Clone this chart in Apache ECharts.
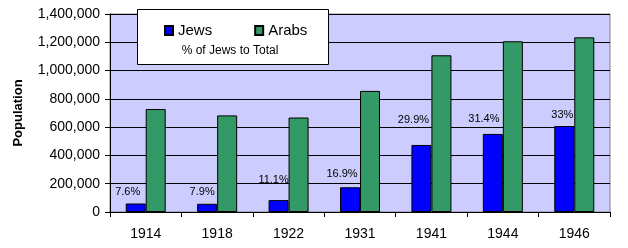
<!DOCTYPE html>
<html>
<head>
<meta charset="utf-8">
<script src="https://cdn.jsdelivr.net/npm/echarts@6/dist/echarts.min.js"></script>
<style>html,body{margin:0;padding:0;background:#fff;}#c{width:628px;height:248px;}</style>
</head>
<body>
<div id="c"></div>
<script>
var years = ['1914', '1918', '1922', '1931', '1941', '1944', '1946'];
var jews = [60000, 58000, 84000, 175000, 474000, 552000, 608000];
var arabs = [728000, 683000, 668000, 856000, 1108000, 1207000, 1235000];
var pctLabels = ['7.6%', '7.9%', '11.1%', '16.9%', '29.9%', '31.4%', '33%'];
var yTicks = { min: 0, max: 1400000, interval: 200000 };

// label placement tweaks (pixels), separate from data
var labelDx = [-8, -5, -5, -8, -8, -9, -2];
var labelDy = [-1, -1, -10, -3, -14, -4, -1];

var FONT = 'Liberation Sans, Arial, sans-serif';
var chart = echarts.init(document.getElementById('c'), null, { renderer: 'canvas' });

var jewsData = jews.map(function (v, i) {
  return { value: v, label: { offset: [labelDx[i], labelDy[i]] } };
});

chart.setOption({
  animation: false,
  textStyle: { fontFamily: FONT },
  grid: {
    left: 110, right: 18, top: 14, bottom: 36,
    show: true, backgroundColor: '#CCCCFF', borderColor: '#808080', borderWidth: 1
  },
  legend: {
    left: 159, top: 18,
    itemWidth: 8, itemHeight: 9, itemGap: 42,
    icon: 'rect',
    textStyle: { fontSize: 15, color: '#000', fontFamily: FONT, padding: [0, 0, 0, 0] },
    data: ['Jews', 'Arabs']
  },
  graphic: [
    {
      type: 'rect', z: 3, zlevel: 0,
      shape: { x: 137.5, y: 9.5, width: 191, height: 55 },
      style: { fill: '#fff', stroke: '#000', lineWidth: 1 }
    },
    {
      type: 'text', z: 4,
      style: { x: 230, y: 51, text: '% of Jews to Total', fontSize: 12, fontFamily: FONT, fill: '#000', align: 'center', verticalAlign: 'middle' }
    }
  ],
  xAxis: {
    type: 'category',
    data: years,
    axisLine: { lineStyle: { color: '#000', width: 1 } },
    axisTick: { show: true, length: 5, lineStyle: { color: '#000' } },
    axisLabel: { fontSize: 14, color: '#000', margin: 15, fontFamily: FONT },
    splitLine: { show: false }
  },
  yAxis: {
    type: 'value',
    min: yTicks.min, max: yTicks.max, interval: yTicks.interval,
    name: 'Population',
    nameLocation: 'middle',
    nameGap: 85,
    nameTextStyle: { fontSize: 13, fontWeight: 'bold', color: '#000', fontFamily: FONT },
    axisLine: { show: true, lineStyle: { color: '#000', width: 1 } },
    axisTick: { show: true, length: 5, lineStyle: { color: '#000' } },
    axisLabel: {
      fontSize: 14, color: '#000', margin: 10, fontFamily: FONT,
      formatter: function (v) { return v.toLocaleString('en-US'); }
    },
    splitLine: { show: true, lineStyle: { color: '#000', width: 1 } }
  },
  series: [
    {
      name: 'Jews', type: 'bar', data: jewsData,
      barWidth: 20, barGap: '0%',
      itemStyle: { color: '#0000FF', borderColor: '#000', borderWidth: 1 },
      label: {
        show: true, position: 'top', distance: 5,
        fontSize: 11, color: '#000', fontFamily: FONT,
        formatter: function (p) { return pctLabels[p.dataIndex]; }
      }
    },
    {
      name: 'Arabs', type: 'bar', data: arabs,
      barWidth: 20, barGap: '0%',
      itemStyle: { color: '#339966', borderColor: '#000', borderWidth: 1 }
    }
  ]
});
</script>
</body>
</html>
